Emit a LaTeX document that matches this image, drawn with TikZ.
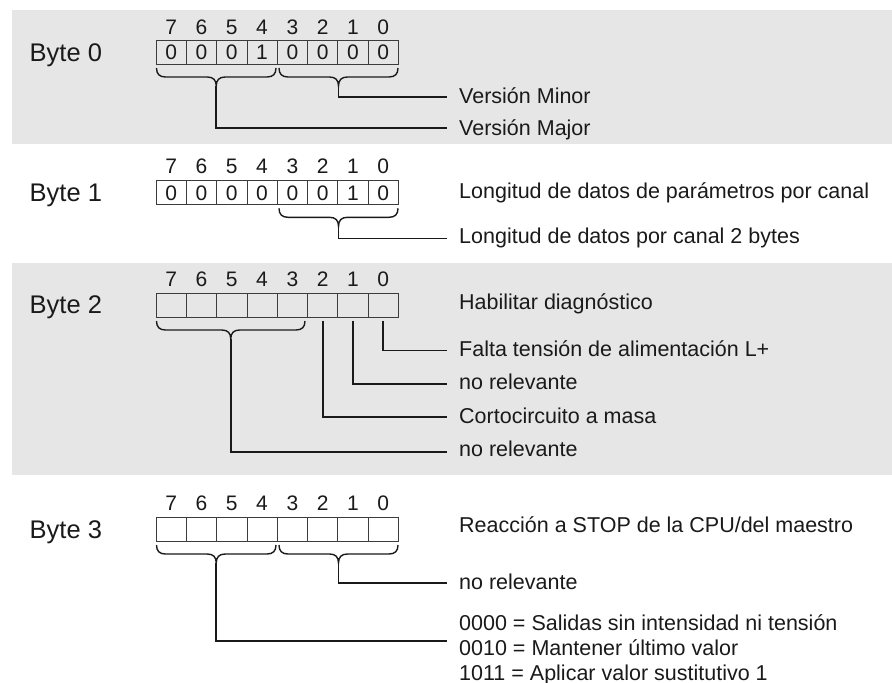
\documentclass[tikz,border=0pt]{standalone}
\usepackage{fontspec}
\setmainfont{Liberation Sans}
\definecolor{band}{RGB}{230,230,230}
\definecolor{ink}{RGB}{26,26,26}
\definecolor{boxline}{RGB}{60,60,60}
\newcommand{\drawbrace}[3]{%
  \pgfmathsetmacro{\bxm}{(#1+#2)/2}%
  \draw[bracestyle] (#1,#3) .. controls (#1,#3+6) and (#1+3,#3+9) .. (#1+9,#3+9)
    -- (\bxm-9,#3+9) .. controls (\bxm-3,#3+9) and (\bxm,#3+12) .. (\bxm,#3+18)
    .. controls (\bxm,#3+12) and (\bxm+3,#3+9) .. (\bxm+9,#3+9)
    -- (#2-9,#3+9) .. controls (#2-3,#3+9) and (#2,#3+6) .. (#2,#3);}
\begin{document}
\begin{tikzpicture}[x=1pt,y=-1pt,
  cell/.style={draw=boxline,line width=0.8pt,minimum width=30.3pt,minimum height=24pt,inner sep=0pt,font=\fontsize{21}{24}\selectfont,text=ink},
  bitnum/.style={anchor=base,inner sep=0pt,font=\fontsize{21}{24}\selectfont,text=ink},
  bytelbl/.style={anchor=base west,inner sep=0pt,font=\fontsize{25.5}{30}\selectfont,text=ink},
  lbl/.style={anchor=base west,inner sep=0pt,font=\fontsize{21.5}{25}\selectfont,text=ink},
  conn/.style={draw=ink,line width=1.8pt},
  bracestyle/.style={draw=ink,line width=1.4pt}
]
\useasboundingbox (0,0) rectangle (892,683);
\fill[white] (0,0) rectangle (892,683);
\fill[band] (12,10) rectangle (892,144);
\fill[band] (12,263) rectangle (892,475);

% ---------------- Byte 0
\node[bytelbl] (byte0) at (29.5,61) {Byte 0};
\foreach \i in {7,...,0} \node[bitnum] (n0\i) at ({156+(7.5-\i)*30.3},34) {\i};
\foreach \i/\v in {7/0,6/0,5/0,4/1,3/0,2/0,1/0,0/0}
  \node[cell] (a\i) at ({156+(7.5-\i)*30.3},52.7) {\v};
\drawbrace{156.5}{276}{68}
\drawbrace{279}{398}{68}
\coordinate (t0l) at (216.25,86);
\coordinate (t0r) at (338.5,86);
\node[lbl] (minor) at (459,103) {Versión Minor};
\node[lbl] (major) at (459,135) {Versión Major};
\coordinate (e0a) at (446.7,97);
\coordinate (e0b) at (446.7,128.3);
\draw[conn] (t0r) |- (e0a);
\draw[conn] (t0l) |- (e0b);

% ---------------- Byte 1
\node[bytelbl] (byte1) at (29.5,201) {Byte 1};
\foreach \i in {7,...,0} \node[bitnum] (n1\i) at ({156+(7.5-\i)*30.3},173.2) {\i};
\foreach \i/\v in {7/0,6/0,5/0,4/0,3/0,2/0,1/1,0/0}
  \node[cell] (b\i) at ({156+(7.5-\i)*30.3},192.85) {\v};
\drawbrace{279}{398}{208.3}
\coordinate (t1r) at (338.5,226.3);
\node[lbl] (plen) at (459,198) {Longitud de datos de parámetros por canal};
\node[lbl] (dlen) at (459,243.5) {Longitud de datos por canal 2 bytes};
\coordinate (e1a) at (446.7,238.5);
\draw[conn] (t1r) |- (e1a);

% ---------------- Byte 2
\node[bytelbl] (byte2) at (29.5,313.5) {Byte 2};
\foreach \i in {7,...,0} \node[bitnum] (n2\i) at ({156+(7.5-\i)*30.3},286) {\i};
\foreach \i in {7,...,0}
  \node[cell] (c\i) at ({156+(7.5-\i)*30.3},305.3) {};
\drawbrace{156.5}{305}{321}
\coordinate (t2l) at (230.75,339);
\node[lbl] (diag) at (459,309.5) {Habilitar diagnóstico};
\node[lbl] (lplus) at (459,356.5) {Falta tensión de alimentación L+};
\node[lbl] (nr1) at (459,389.5) {no relevante};
\node[lbl] (corto) at (459,423) {Cortocircuito a masa};
\node[lbl] (nr2) at (459,456) {no relevante};
\coordinate (e2a) at (446.7,350.5);
\coordinate (e2b) at (446.7,384);
\coordinate (e2c) at (446.7,416.7);
\coordinate (e2d) at (446.7,451.7);
\draw[conn] ([yshift=-3pt]c0.south) |- (e2a);
\draw[conn] ([yshift=-3pt]c1.south) |- (e2b);
\draw[conn] ([yshift=-3pt]c2.south) |- (e2c);
\draw[conn] (t2l) |- (e2d);

% ---------------- Byte 3
\node[bytelbl] (byte3) at (29.5,538) {Byte 3};
\foreach \i in {7,...,0} \node[bitnum] (n3\i) at ({156+(7.5-\i)*30.3},510) {\i};
\foreach \i in {7,...,0}
  \node[cell] (d\i) at ({156+(7.5-\i)*30.3},529.7) {};
\drawbrace{156.5}{276}{545}
\drawbrace{279}{398}{545}
\coordinate (t3l) at (216.25,563);
\coordinate (t3r) at (338.5,563);
\node[lbl] (stop) at (459,532.5) {Reacción a STOP de la CPU/del maestro};
\node[lbl] (nr3) at (459,589) {no relevante};
\node[lbl] (opt0) at (459,630) {0000 = Salidas sin intensidad ni tensión};
\node[lbl] (opt1) at (459,655) {0010 = Mantener último valor};
\node[lbl] (opt2) at (459,680) {1011 = Aplicar valor sustitutivo 1};
\coordinate (e3a) at (446.7,583);
\coordinate (e3b) at (446.7,641);
\draw[conn] (t3r) |- (e3a);
\draw[conn] (t3l) |- (e3b);
\end{tikzpicture}
\end{document}
